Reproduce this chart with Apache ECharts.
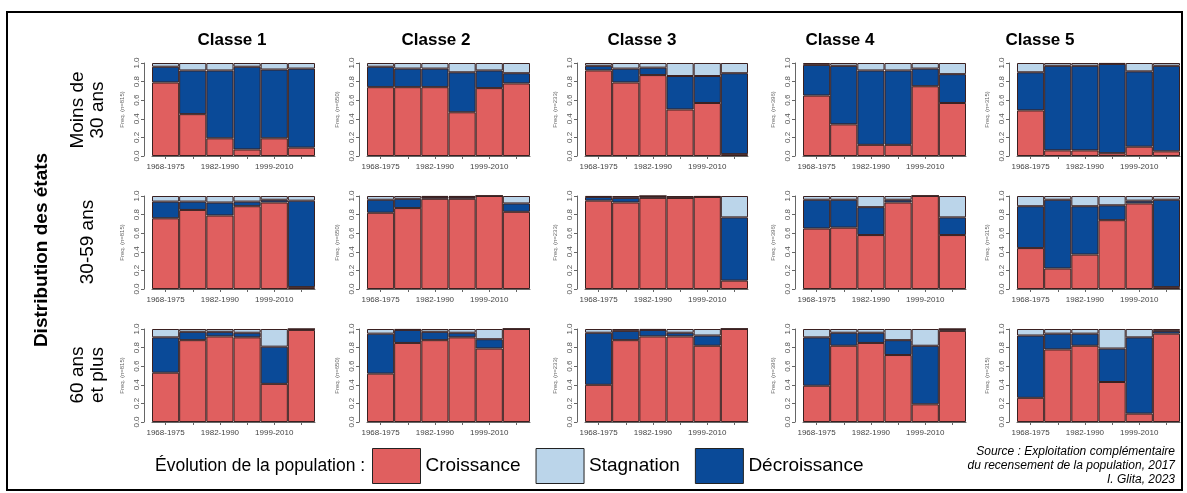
<!DOCTYPE html>
<html><head><meta charset="utf-8">
<script src="https://cdn.jsdelivr.net/npm/echarts@6/dist/echarts.min.js"></script>
<style>html,body{margin:0;padding:0;background:#fff}#c{width:1187px;height:493px}</style>
</head><body><div id="c"></div>
<script>
const periods = ['1968-1975','1975-1982','1982-1990','1990-1999','1999-2010','2010-2017'];
const classes = ['Classe 1','Classe 2','Classe 3','Classe 4','Classe 5'];
const counts = [815, 650, 233, 396, 315];
const ageGroups = ['Moins de\n30 ans','30-59 ans','60 ans\net plus'];
const states = ['Croissance','Décroissance','Stagnation'];

// Moins de 30 ans (per class, 6 periods)
const croissanceMoins30 = [
  [0.79,0.45,0.19,0.07,0.19,0.09],
  [0.74,0.74,0.74,0.47,0.73,0.78],
  [0.92,0.79,0.87,0.50,0.57,0.02],
  [0.65,0.34,0.12,0.12,0.75,0.57],
  [0.49,0.06,0.06,0.03,0.10,0.05]];
const decroissanceMoins30 = [
  [0.17,0.47,0.73,0.89,0.74,0.85],
  [0.22,0.20,0.20,0.43,0.19,0.11],
  [0.05,0.15,0.08,0.36,0.29,0.87],
  [0.33,0.63,0.80,0.80,0.19,0.31],
  [0.41,0.91,0.91,0.96,0.81,0.92]];
const stagnationMoins30 = [
  [0.04,0.08,0.08,0.04,0.07,0.06],
  [0.04,0.06,0.06,0.10,0.08,0.11],
  [0.03,0.06,0.05,0.14,0.14,0.11],
  [0.02,0.03,0.08,0.08,0.06,0.12],
  [0.10,0.03,0.03,0.01,0.09,0.03]];

// 30-59 ans
const croissance3059 = [
  [0.76,0.85,0.79,0.89,0.93,0.02],
  [0.82,0.87,0.97,0.97,1.00,0.83],
  [0.95,0.93,0.98,0.98,0.99,0.09],
  [0.65,0.66,0.58,0.93,1.00,0.58],
  [0.44,0.22,0.37,0.74,0.92,0.02]];
const decroissance3059 = [
  [0.18,0.09,0.14,0.05,0.03,0.93],
  [0.14,0.10,0.02,0.02,0.00,0.09],
  [0.04,0.05,0.02,0.00,0.00,0.68],
  [0.31,0.30,0.30,0.03,0.00,0.19],
  [0.45,0.74,0.52,0.16,0.03,0.94]];
const stagnation3059 = [
  [0.06,0.06,0.07,0.06,0.04,0.05],
  [0.04,0.03,0.01,0.01,0.00,0.08],
  [0.01,0.02,0.00,0.02,0.01,0.23],
  [0.04,0.04,0.12,0.04,0.00,0.23],
  [0.11,0.04,0.11,0.10,0.05,0.04]];

// 60 ans et plus
const croissance60 = [
  [0.53,0.88,0.92,0.91,0.41,0.99],
  [0.52,0.85,0.88,0.91,0.79,1.00],
  [0.40,0.88,0.92,0.92,0.82,1.00],
  [0.39,0.82,0.85,0.72,0.19,0.98],
  [0.26,0.78,0.82,0.43,0.09,0.95]];
const decroissance60 = [
  [0.38,0.09,0.05,0.05,0.40,0.01],
  [0.43,0.14,0.09,0.05,0.10,0.00],
  [0.56,0.10,0.07,0.04,0.11,0.00],
  [0.52,0.14,0.11,0.16,0.63,0.02],
  [0.67,0.17,0.13,0.36,0.82,0.03]];
const stagnation60 = [
  [0.09,0.03,0.03,0.04,0.19,0.00],
  [0.05,0.01,0.03,0.04,0.11,0.00],
  [0.04,0.02,0.01,0.04,0.07,0.00],
  [0.09,0.04,0.04,0.12,0.18,0.00],
  [0.07,0.05,0.05,0.21,0.09,0.02]];

const yTicks = [0, 0.2, 0.4, 0.6, 0.8, 1.0];

const rows = [
  [croissanceMoins30, decroissanceMoins30, stagnationMoins30],
  [croissance3059, decroissance3059, stagnation3059],
  [croissance60, decroissance60, stagnation60]];
const colors = {'Croissance':'#E05F5F','Décroissance':'#0A4A98','Stagnation':'#BBD5EA'};

const colLeft = [152, 367, 585, 803, 1017];
const rowTop = [63, 196, 329];
const pw = 163, ph = 93;
const titleX = [232, 436, 642, 840, 1040];

const grids = [], xAxes = [], yAxes = [], series = [];
let gi = 0;
for (let r = 0; r < 3; r++) {
  for (let c = 0; c < 5; c++) {
    grids.push({left: colLeft[c], top: rowTop[r], width: pw, height: ph});
    xAxes.push({
      type: 'category', gridIndex: gi, data: periods, offset: 4,
      axisLine: {show: true, lineStyle: {color: '#666', width: 1}},
      axisTick: {show: true, alignWithLabel: true, interval: 0, length: 3, lineStyle: {color: '#666'}},
      axisLabel: {interval: 1, fontSize: 8, color: '#444', margin: 3, fontFamily: 'Liberation Sans'}
    });
    yAxes.push({
      type: 'value', gridIndex: gi, min: 0, max: 1, interval: 0.2, offset: 8,
      splitLine: {show: false},
      axisLine: {show: true, lineStyle: {color: '#666', width: 1}},
      axisTick: {show: true, length: 3, lineStyle: {color: '#666'}},
      axisLabel: {fontSize: 8, color: '#555', rotate: 90, margin: 3, fontFamily: 'Liberation Sans',
        formatter: v => v.toFixed(1)},
      name: 'Freq. (n=' + counts[c] + ')', nameLocation: 'middle', nameRotate: 90, nameGap: 19,
      nameTextStyle: {fontSize: 6, color: '#666', fontFamily: 'Liberation Sans'}
    });
    const arrs = rows[r];
    states.forEach((s, k) => {
      series.push({
        type: 'bar', name: s, xAxisIndex: gi, yAxisIndex: gi, stack: 'p' + gi,
        data: arrs[k][c], barCategoryGap: '0%', silent: true,
        itemStyle: {color: colors[s], borderColor: '#3a2020', borderWidth: 1}
      });
    });
    gi++;
  }
}

const graphics = [
  {type: 'rect', shape: {x: 7, y: 12, width: 1175, height: 478}, style: {fill: 'none', stroke: '#000', lineWidth: 2}},
  {type: 'text', x: 42, y: 250, rotation: Math.PI/2, style: {text: 'Distribution des états', font: 'bold 19px "Liberation Sans"', fill: '#000', textAlign: 'center', textVerticalAlign: 'middle'}},
  {type: 'text', x: 155, y: 466, style: {text: 'Évolution de la population :', font: '17.5px "Liberation Sans"', fill: '#000', textAlign: 'left', textVerticalAlign: 'middle'}},
  {type: 'text', x: 1175, y: 466, style: {text: 'Source : Exploitation complémentaire\ndu recensement de la population, 2017\nI. Glita, 2023', font: 'italic 12px "Liberation Sans"', lineHeight: 14, fill: '#000', textAlign: 'right', textVerticalAlign: 'middle'}}
];
classes.forEach((t, i) => graphics.push({type: 'text', x: titleX[i], y: 40, style: {text: t, font: 'bold 17px "Liberation Sans"', fill: '#000', textAlign: 'center', textVerticalAlign: 'middle'}}));
const rowLabelY = [110, 242, 375];
ageGroups.forEach((t, i) => graphics.push({type: 'text', x: 88, y: rowLabelY[i], rotation: Math.PI/2, style: {text: t, font: '19px "Liberation Sans"', lineHeight: 20, fill: '#000', textAlign: 'center', textVerticalAlign: 'middle'}}));

const chart = echarts.init(document.getElementById('c'), null, {renderer: 'canvas'});
chart.setOption({
  animation: false,
  backgroundColor: '#fff',
  grid: grids, xAxis: xAxes, yAxis: yAxes, series: series,
  legend: {
    data: ['Croissance','Stagnation','Décroissance'], left: 367, top: 443,
    itemWidth: 48, itemHeight: 35, itemGap: 15, icon: 'rect',
    itemStyle: {borderColor: '#222', borderWidth: 1},
    textStyle: {fontSize: 19, color: '#000', fontFamily: 'Liberation Sans'}, selectedMode: false
  },
  graphic: graphics
});
</script></body></html>
